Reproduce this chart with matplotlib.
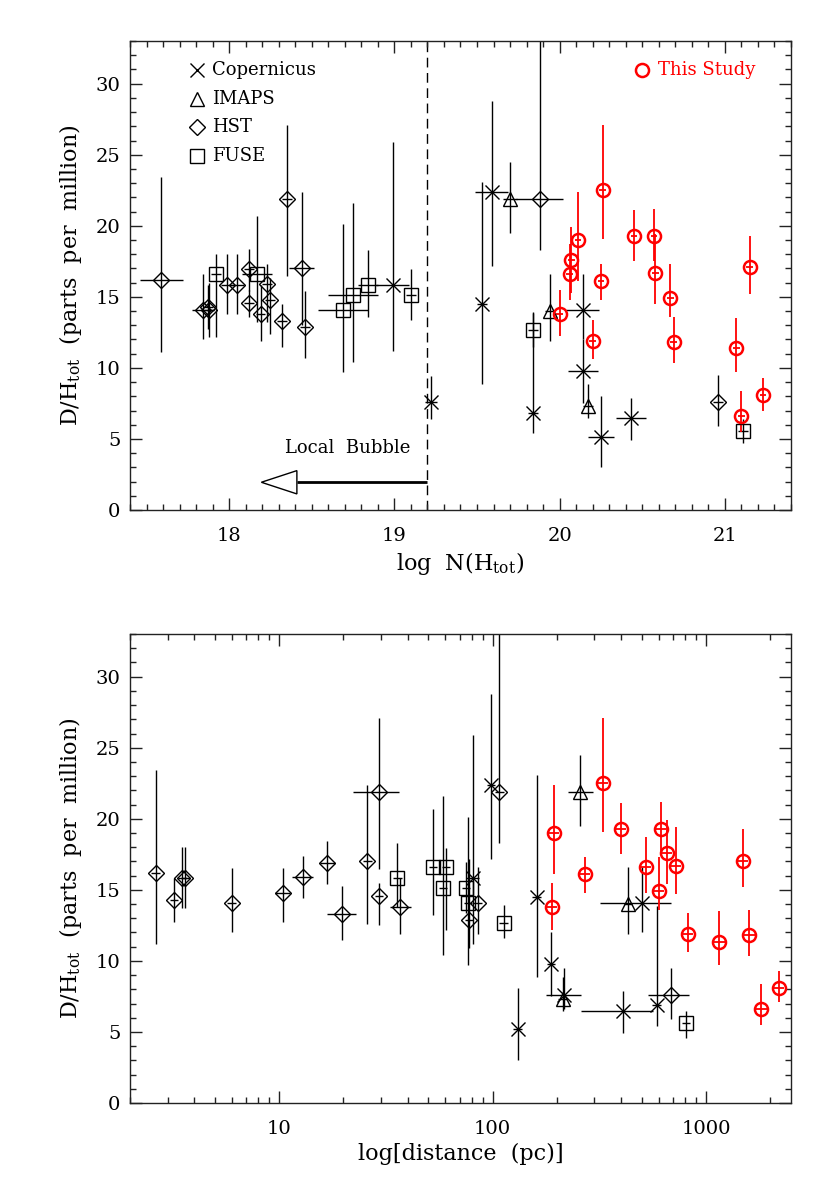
import numpy as np
import matplotlib
matplotlib.use("Agg")
import matplotlib.pyplot as plt
from matplotlib.patches import Polygon
from matplotlib.ticker import MultipleLocator, LogLocator, FixedLocator, FixedFormatter, NullFormatter

plt.rcParams['font.family'] = ['DejaVu Serif']
plt.rcParams['mathtext.fontset'] = 'dejavuserif'

# ---------------- top panel data: log N(H_tot) ----------------
cop_logN = [18.99, 19.22, 19.53, 19.59, 19.84, 20.14, 20.14, 20.25, 20.43]
cop_logN_err = [0.10, 0.035, 0.03, 0.10, 0.03, 0.10, 0.09, 0.08, 0.09]
cop_dh_top = [15.8, 7.6, 14.5, 22.4, 6.85, 14.1, 9.8, 5.16, 6.45]
cop_up_top = [25.9, 9.4, 23.1, 28.8, 13.85, 16.6, 12.0, 8.0, 7.9]
cop_low_top = [11.2, 6.4, 8.9, 17.2, 5.4, 12.0, 7.5, 3.0, 4.9]

imaps_logN = [19.70, 19.94, 20.17]
imaps_logN_err = [0.04, 0.03, 0.03]
imaps_dh_top = [21.9, 14.0, 7.3]
imaps_up_top = [24.5, 16.6, 8.9]
imaps_low_top = [19.5, 11.9, 6.5]

hst_logN = [17.59, 17.84, 17.87, 17.88, 17.99, 18.05, 18.12, 18.12, 18.19,
            18.23, 18.25, 18.32, 18.35, 18.44, 18.46, 19.88, 20.96]
hst_logN_err = [0.13, 0.067, 0.03, 0.03, 0.04, 0.04, 0.03, 0.03, 0.03,
                0.03, 0.03, 0.03, 0.03, 0.075, 0.03, 0.143, 0.03]
hst_dh_top = [16.2, 14.1, 14.3, 14.1, 15.8, 15.8, 16.95, 14.6, 13.8,
              15.9, 14.8, 13.3, 21.9, 17.0, 12.9, 21.9, 7.6]
hst_up_top = [23.4, 16.6, 15.8, 16.0, 18.0, 18.0, 18.4, 15.5, 15.8,
              17.3, 16.3, 14.5, 27.1, 22.4, 15.4, 36.0, 9.5]
hst_low_top = [11.1, 12.0, 12.75, 12.2, 13.8, 13.8, 15.4, 13.6, 11.9,
               13.2, 12.4, 11.5, 16.5, 13.0, 10.7, 18.3, 5.9]

fuse_logN = [17.92, 18.17, 18.69, 18.75, 18.84, 19.10, 19.84, 21.11]
fuse_logN_err = [0.03, 0.09, 0.15, 0.15, 0.06, 0.03, 0.03, 0.03]
fuse_dh_top = [16.6, 16.6, 14.1, 15.1, 15.8, 15.1, 12.7, 5.55]
fuse_up_top = [18.0, 20.7, 20.1, 21.6, 18.3, 16.95, 13.9, 6.4]
fuse_low_top = [12.2, 13.2, 9.7, 10.4, 13.6, 13.4, 11.5, 4.7]

this_logN = [20.00, 20.06, 20.07, 20.11, 20.26, 20.25, 20.20, 20.45,
             20.57, 20.58, 20.67, 20.69, 21.07, 21.15, 21.10, 21.23]
this_logN_err = [0.02] * 16
this_dh_top = [13.8, 16.6, 17.6, 19.0, 22.5, 16.1, 11.9, 19.25,
               19.3, 16.7, 14.9, 11.8, 11.4, 17.1, 6.6, 8.1]
this_up_top = [15.5, 18.7, 19.9, 22.4, 27.1, 17.3, 13.4, 21.1,
               21.2, 19.4, 17.3, 13.6, 13.5, 19.3, 8.4, 9.3]
this_low_top = [12.25, 14.8, 15.3, 16.1, 19.1, 14.8, 10.6, 17.5,
                17.5, 14.5, 13.6, 10.35, 9.7, 15.2, 5.5, 7.0]

# ---------------- bottom panel data: distance (pc) ----------------
cop_dist = [98.5, 80.5, 161, 131, 188, 215, 410, 500, 587]
cop_dex_lo = [0.02, 0.03, 0.02, 0.02, 0.02, 0.083, 0.20, 0.195, 0.02]
cop_dex_hi = [0.02, 0.03, 0.02, 0.02, 0.02, 0.083, 0.14, 0.135, 0.02]
cop_dh_bot = [22.4, 15.8, 14.5, 5.2, 9.76, 7.6, 6.5, 14.1, 6.9]
cop_up_bot = [28.8, 25.9, 23.1, 8.1, 12.0, 9.5, 7.9, 16.6, 13.85]
cop_low_bot = [17.2, 11.2, 8.9, 3.0, 7.5, 6.6, 4.9, 12.0, 5.4]

imaps_dist = [258, 430, 213]
imaps_dex_lo = [0.06, 0.02, 0.02]
imaps_dex_hi = [0.06, 0.02, 0.02]
imaps_dh_bot = [21.85, 14.0, 7.3]
imaps_up_bot = [24.5, 16.6, 8.9]
imaps_low_bot = [19.5, 11.9, 6.5]

hst_dist = [2.64, 3.21, 3.52, 3.64, 5.98, 10.37, 12.9, 16.8, 19.6,
            25.9, 29.5, 29.4, 37.0, 107.6, 85, 77.6, 683]
hst_dex_lo = [0.02, 0.02, 0.02, 0.02, 0.02, 0.035, 0.05, 0.035, 0.07,
              0.02, 0.123, 0.02, 0.048, 0.02, 0.02, 0.02, 0.105]
hst_dex_hi = [0.02, 0.02, 0.02, 0.02, 0.02, 0.035, 0.05, 0.035, 0.07,
              0.02, 0.092, 0.02, 0.048, 0.02, 0.02, 0.02, 0.085]
hst_dh_bot = [16.2, 14.3, 15.8, 15.8, 14.1, 14.8, 15.9, 16.9, 13.3,
              17.0, 21.9, 14.6, 13.8, 21.9, 14.1, 12.9, 7.6]
hst_up_bot = [23.4, 15.85, 18.0, 18.0, 16.55, 16.55, 17.4, 18.46, 15.3,
              22.4, 27.1, 15.5, 15.85, 36.0, 16.6, 17.2, 9.5]
hst_low_bot = [11.2, 12.75, 13.7, 13.7, 12.0, 12.75, 14.45, 15.4, 11.5,
               12.6, 16.5, 12.55, 11.9, 18.3, 11.9, 10.9, 5.9]

fuse_dist = [35.8, 52.6, 60.4, 58.7, 75.2, 76.6, 112.5, 805]
fuse_dex = [0.02] * 8
fuse_dh_bot = [15.8, 16.6, 16.6, 15.1, 15.1, 14.1, 12.7, 5.6]
fuse_up_bot = [18.3, 20.7, 17.97, 21.6, 16.95, 20.1, 13.9, 6.5]
fuse_low_bot = [13.8, 13.2, 12.2, 10.4, 13.4, 9.7, 11.6, 4.6]

this_dist = [193, 189, 270, 328, 400, 521, 615, 600,
             654, 721, 823, 1153, 1489, 1594, 1813, 2193]
this_dex = [0.025] * 16
this_dh_bot = [19.0, 13.8, 16.1, 22.5, 19.25, 16.6, 19.3, 14.9,
               17.6, 16.7, 11.9, 11.35, 17.05, 11.8, 6.6, 8.1]
this_up_bot = [22.4, 15.5, 17.3, 27.1, 21.1, 18.7, 21.2, 17.3,
               19.9, 19.4, 13.4, 13.5, 19.3, 13.6, 8.4, 9.3]
this_low_bot = [16.1, 12.2, 14.8, 19.1, 17.5, 14.8, 17.5, 13.6,
                15.4, 14.7, 10.6, 9.7, 15.2, 10.35, 5.5, 7.1]

legend_labels = ["Copernicus", "IMAPS", "HST", "FUSE"]
this_label = "This Study"

RED = "#ff0000"
styles = {
    "cop": dict(marker="x", ms=9.4, mew=1.0, color="black", elw=1.0),
    "imaps": dict(marker="^", ms=9.5, mew=1.0, color="black", elw=1.0),
    "hst": dict(marker="D", ms=8.3, mew=1.0, color="black", elw=1.0),
    "fuse": dict(marker="s", ms=9.6, mew=1.0, color="black", elw=1.0),
    "this": dict(marker="o", ms=9.4, mew=1.8, color=RED, elw=1.3),
}


def draw(ax, x, xlo, xhi, y, up, low, st):
    x = np.asarray(x, float)
    y = np.asarray(y, float)
    yerr = [y - np.asarray(low, float), np.asarray(up, float) - y]
    ax.errorbar(x, y, xerr=[np.asarray(xlo, float), np.asarray(xhi, float)],
                yerr=yerr, fmt="none", ecolor=st["color"],
                elinewidth=st["elw"], capsize=0, zorder=2)
    ax.plot(x, y, linestyle="none", marker=st["marker"], mfc="none",
            mec=st["color"], ms=st["ms"], mew=st["mew"], zorder=3)


def draw_top(ax, x, xerr, y, up, low, st):
    draw(ax, x, xerr, xerr, y, up, low, st)


def draw_bot(ax, d, dlo, dhi, y, up, low, st):
    d = np.asarray(d, float)
    xlo = d - d * 10 ** (-np.asarray(dlo, float))
    xhi = d * 10 ** np.asarray(dhi, float) - d
    draw(ax, d, xlo, xhi, y, up, low, st)


def style_axes(ax):
    for sp in ax.spines.values():
        sp.set_linewidth(1.0)
        sp.set_color("#222222")
    ax.tick_params(which="both", direction="in", top=True, right=True,
                   labelsize=14, color="#222222")
    ax.tick_params(which="major", length=8.5, width=1.0)
    ax.tick_params(which="minor", length=4.3, width=1.0)
    ax.tick_params(axis="x", which="major", pad=12)
    ax.tick_params(axis="y", which="major", pad=7)
    ax.set_ylim(0, 33)
    ax.yaxis.set_major_locator(MultipleLocator(5))
    ax.yaxis.set_minor_locator(MultipleLocator(1))


fig = plt.figure(figsize=(8.3, 11.86), dpi=100)
ax1 = fig.add_axes([0.1566, 0.5700, 0.7964, 0.3954])
ax2 = fig.add_axes([0.1566, 0.0700, 0.7964, 0.3954])

ylab = r"D/H$_{\rm tot}$  (parts  per  million)"

# ---- top panel ----
draw_top(ax1, hst_logN, hst_logN_err, hst_dh_top, hst_up_top, hst_low_top, styles["hst"])
draw_top(ax1, fuse_logN, fuse_logN_err, fuse_dh_top, fuse_up_top, fuse_low_top, styles["fuse"])
draw_top(ax1, imaps_logN, imaps_logN_err, imaps_dh_top, imaps_up_top, imaps_low_top, styles["imaps"])
draw_top(ax1, cop_logN, cop_logN_err, cop_dh_top, cop_up_top, cop_low_top, styles["cop"])
draw_top(ax1, this_logN, this_logN_err, this_dh_top, this_up_top, this_low_top, styles["this"])

style_axes(ax1)
ax1.set_xlim(17.4, 21.4)
ax1.xaxis.set_major_locator(MultipleLocator(1))
ax1.xaxis.set_minor_locator(MultipleLocator(0.1))
ax1.set_xlabel(r"log  N(H$_{\rm tot}$)", fontsize=16, labelpad=4)
ax1.set_ylabel(ylab, fontsize=16, labelpad=8)

# local bubble boundary and arrow
ax1.axvline(19.2, color="black", lw=1.0, dashes=(7, 4), zorder=1)
ax1.plot([18.41, 19.2], [1.95, 1.95], color="black", lw=2.0, zorder=2,
         solid_capstyle="butt")
ax1.add_patch(Polygon([[18.195, 1.95], [18.41, 2.77], [18.41, 1.13]],
                      closed=True, facecolor="white", edgecolor="black",
                      lw=1.0, zorder=3))
ax1.text(18.72, 4.37, "Local  Bubble", fontsize=13, ha="center", va="center")

# legend
leg_keys = ["cop", "imaps", "hst", "fuse"]
for i, (k, lab) in enumerate(zip(leg_keys, legend_labels)):
    yy = 0.938 - i * 0.0608
    st = styles[k]
    ax1.plot([0.1008], [yy], transform=ax1.transAxes, linestyle="none",
             marker=st["marker"], mfc="none", mec="black", ms=st["ms"], mew=1.0)
    ax1.text(0.1234, yy, lab, transform=ax1.transAxes, fontsize=13,
             ha="left", va="center")
st = styles["this"]
ax1.plot([0.774], [0.938], transform=ax1.transAxes, linestyle="none",
         marker="o", mfc="none", mec=RED, ms=st["ms"], mew=st["mew"])
ax1.text(0.7995, 0.938, this_label, transform=ax1.transAxes, fontsize=13,
         color=RED, ha="left", va="center")

# ---- bottom panel ----
ax2.set_xscale("log")
draw_bot(ax2, hst_dist, hst_dex_lo, hst_dex_hi, hst_dh_bot, hst_up_bot, hst_low_bot, styles["hst"])
draw_bot(ax2, fuse_dist, fuse_dex, fuse_dex, fuse_dh_bot, fuse_up_bot, fuse_low_bot, styles["fuse"])
draw_bot(ax2, imaps_dist, imaps_dex_lo, imaps_dex_hi, imaps_dh_bot, imaps_up_bot, imaps_low_bot, styles["imaps"])
draw_bot(ax2, cop_dist, cop_dex_lo, cop_dex_hi, cop_dh_bot, cop_up_bot, cop_low_bot, styles["cop"])
draw_bot(ax2, this_dist, this_dex, this_dex, this_dh_bot, this_up_bot, this_low_bot, styles["this"])

style_axes(ax2)
ax2.set_xlim(2.0, 2500)
ax2.xaxis.set_major_locator(FixedLocator([10, 100, 1000]))
ax2.xaxis.set_major_formatter(FixedFormatter(["10", "100", "1000"]))
ax2.xaxis.set_minor_locator(LogLocator(base=10, subs=np.arange(2, 10)))
ax2.xaxis.set_minor_formatter(NullFormatter())
ax2.set_xlabel("log[distance  (pc)]", fontsize=16, labelpad=4)
ax2.set_ylabel(ylab, fontsize=16, labelpad=8)

fig.savefig("out.png", dpi=100)
